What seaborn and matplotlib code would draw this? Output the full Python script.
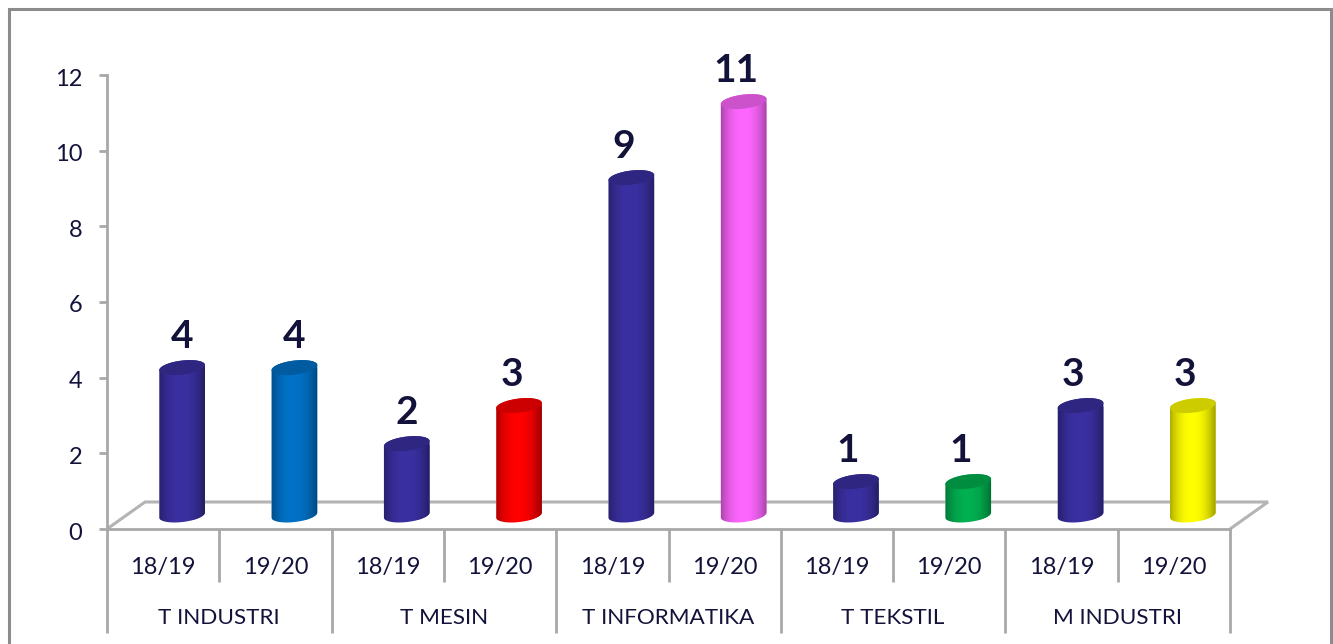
import numpy as np
import pandas as pd
import matplotlib
matplotlib.use("Agg")
import matplotlib.pyplot as plt
from matplotlib.patches import PathPatch, Rectangle
from matplotlib.path import Path
from matplotlib.colors import to_rgb
from matplotlib.transforms import ScaledTranslation
import seaborn as sns

groups = ["T INDUSTRI", "T MESIN", "T INFORMATIKA", "T TEKSTIL", "M INDUSTRI"]
years = ["18/19", "19/20"]
values = [4, 4, 2, 3, 9, 11, 1, 1, 3, 3]
colors = ["#3B30A2", "#0072C8", "#3B30A2", "#FF0000", "#3B30A2",
          "#FF66FF", "#3B30A2", "#00B050", "#3B30A2", "#FFFF00"]
label_shift_px = [0, 0, 0, -7, -8, -8, -8, -8, -8, -8]

W, H = 1333, 644
TXT = "#12123A"
GRID = "#A8A8A8"
sns.set_theme(style="white")
plt.rcParams["font.family"] = ["Lato", "DejaVu Sans"]

fig = plt.figure(figsize=(W / 100, H / 100), dpi=100, facecolor="white")


def rect(l, t, r, b):
    return [l / W, 1 - b / H, (r - l) / W, (b - t) / H]


ax = fig.add_axes(rect(107, 75, 1230, 529), facecolor="none")
ax2 = fig.add_axes(rect(126, 63.6, 1249, 519.6), facecolor="none")

names = [f"{g} {y}" for g in groups for y in years]
df = pd.DataFrame({"name": names, "value": values})
sns.barplot(data=df, x="name", y="value", hue="name", palette=colors,
            width=0.41, legend=False, saturation=1, ax=ax2)
ax2.set_xlim(-0.5, 9.5)
ax2.set_ylim(0, 12)
ax2.axis("off")

# main axis
ax.set_xlim(-0.5, 9.5)
ax.set_ylim(0, 12)
sns.despine(ax=ax, top=True, right=True)
for s in ("left", "bottom"):
    ax.spines[s].set_color(GRID)
    ax.spines[s].set_linewidth(2.0)
ax.set_yticks(range(0, 13, 2))
ax.tick_params(axis="y", left=True, length=5.8, width=2, color=GRID, pad=12,
               labelsize=17, labelcolor=TXT)
for lab in ax.get_yticklabels():
    lab.set_transform(lab.get_transform() + ScaledTranslation(0, -2 / 100, fig.dpi_scale_trans))
ax.set_xticks(range(10), [y for _ in groups for y in years])
ax.tick_params(axis="x", bottom=False, length=0, pad=20, labelsize=17, labelcolor=TXT)
ax.grid(False)

xt = ax.get_xaxis_transform()
px_y = lambda p: -(p - 529) / 454
sep_all = np.arange(-0.5, 10, 1)
for i, x in enumerate(sep_all):
    end = 633 if i % 2 == 0 else 582
    ax.plot([x, x], [0, px_y(end)], transform=xt, clip_on=False,
            color=GRID, lw=2.0, solid_capstyle="butt")
for i, g in enumerate(groups):
    ax.text(2 * i + 0.5, px_y(618), g, transform=xt, ha="center", va="center",
            fontsize=16.2, color=TXT)

# floor of the chart box
dx_u, dy_u = 38 / 112.3, 27 / 37.83
floor_x = [-0.5, -0.5 + dx_u, 9.5 + dx_u, 9.5]
floor_y = [0, dy_u, dy_u, 0]
ax.plot(floor_x, floor_y, color="#B4B4B4", lw=2.2, clip_on=False,
        solid_joinstyle="miter")

# cylinders, built on the bars that seaborn drew
ux, uy = 1 / 112.3, 1 / 38.0   # data units per pixel
A, Bh, tilt = 23.0, 7.0, np.deg2rad(7)
BASE = 4.6 * uy                # foot of the cylinder sits slightly above zero


def ell_pts(cx, cy, t):
    xp = A * np.cos(t) * np.cos(tilt) - Bh * np.sin(t) * np.sin(tilt)
    yp = A * np.cos(t) * np.sin(tilt) + Bh * np.sin(t) * np.cos(tilt)
    return cx + xp * ux, cy + yp * uy


for bar, val, col, sh in zip(list(ax2.patches), values, colors, label_shift_px):
    cx = bar.get_x() + bar.get_width() / 2
    top = bar.get_height()
    t = np.linspace(0, 2 * np.pi, 90)
    x_low, y_low = ell_pts(cx, BASE, np.linspace(np.pi, 2 * np.pi, 45))
    x_up, y_up = ell_pts(cx, top, np.linspace(0, np.pi, 45))
    verts = np.r_[np.c_[x_low, y_low], np.c_[x_up, y_up], [[x_low[0], y_low[0]]]]
    codes = [Path.MOVETO] + [Path.LINETO] * (len(verts) - 2) + [Path.CLOSEPOLY]
    body = PathPatch(Path(verts, codes), transform=ax2.transData,
                     facecolor="none", edgecolor="none", clip_on=False)
    ax2.add_patch(body)
    bar.set_clip_path(body)
    bar.set_clip_box(fig.bbox)
    rgb = np.array(to_rgb(col))
    ramp = np.linspace(0, 1, 64)
    shade = 0.62 + 0.38 * np.clip(1 - (np.abs(ramp - 0.48) / 0.5) ** 2.2, 0, 1)
    img = (rgb[None, :] * shade[:, None])[None, :, :]
    im = ax2.imshow(img, extent=[cx - 24 * ux, cx + 24 * ux, -10 * uy, top + 10 * uy],
                    aspect="auto", origin="lower", interpolation="bilinear", zorder=3)
    im.set_clip_path(body)
    im.set_clip_box(fig.bbox)
    cap = np.c_[ell_pts(cx, top, t)]
    ax2.add_patch(PathPatch(Path(cap), transform=ax2.transData, zorder=4, clip_on=False,
                            facecolor=tuple(rgb * 0.8), edgecolor="none"))
    ax2.annotate(str(val), (cx, top), xytext=(sh * 0.72, 31 * 0.72),
                 textcoords="offset points", ha="center", va="center",
                 fontsize=28, fontweight="bold", color=TXT, zorder=5)
ax2.set_xlim(-0.5, 9.5)
ax2.set_ylim(0, 12)

# outer chart border (runs off the bottom of the image)
fig.add_artist(Rectangle((8.5 / W, -0.1), (1330.5 - 8.5) / W, 1.1 - 9.5 / H,
                         transform=fig.transFigure, fill=False,
                         edgecolor="#8C8C8C", lw=2.2))

fig.savefig("out.png", dpi=100)
